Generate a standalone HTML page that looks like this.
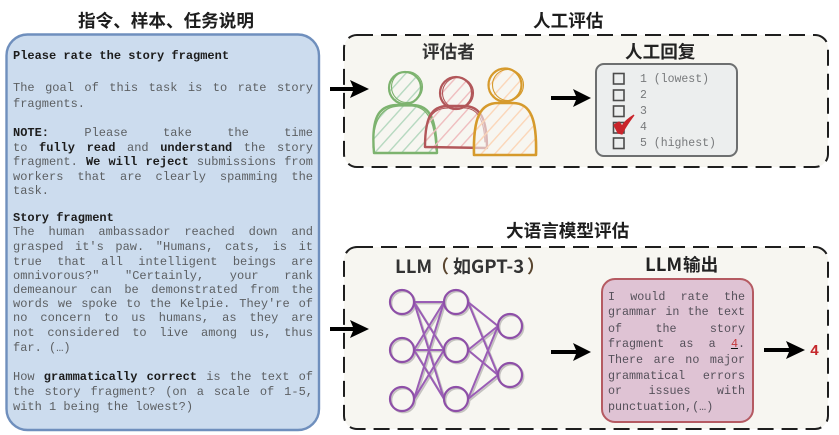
<!DOCTYPE html>
<html>
<head>
<meta charset="utf-8">
<style>
html,body{margin:0;padding:0;background:#fff;width:839px;height:435px;overflow:hidden}
#w{position:relative;width:839px;height:435px;filter:blur(.3px)}
svg{position:absolute;left:0;top:0}
.l{position:absolute;margin-top:1px;left:13px;width:300px;height:14px;line-height:14px;font:12px/14px "Liberation Mono",monospace;color:#5c5f62;white-space:nowrap}
.j{white-space:normal;text-align:justify;text-align-last:justify}
.l b{color:#1c1c1c}
.o{left:608px;width:137px;color:#55505a;font-size:11.7px}
.c{left:640px;width:90px;color:#77797b;font-size:11.5px;white-space:pre}
</style>
</head>
<body>
<div id="w">
<svg width="839" height="435" viewBox="0 0 839 435" xmlns="http://www.w3.org/2000/svg">
<defs>
<pattern id="hg" width="10" height="10" patternUnits="userSpaceOnUse" patternTransform="rotate(42)"><line x1="0" y1="0" x2="0" y2="10" stroke="#b5d8bf" stroke-width="2.8"/></pattern>
<pattern id="hr" width="10" height="10" patternUnits="userSpaceOnUse" patternTransform="rotate(42)"><line x1="0" y1="0" x2="0" y2="10" stroke="#efbcbe" stroke-width="2.8"/></pattern>
<pattern id="ho" width="10" height="10" patternUnits="userSpaceOnUse" patternTransform="rotate(42)"><line x1="0" y1="0" x2="0" y2="10" stroke="#fbd6b8" stroke-width="2.8"/></pattern>
</defs>

<rect x="6.5" y="34.5" width="312.5" height="395.5" rx="21" fill="#ccdcee" stroke="#6f8fbd" stroke-width="2.4"/>

<rect x="344" y="35" width="484" height="132" rx="13" fill="#f7f6f1" stroke="#1e1e1e" stroke-width="2" stroke-dasharray="16 8"/>
<rect x="344" y="247" width="484" height="182" rx="13" fill="#f7f6f1" stroke="#1e1e1e" stroke-width="2" stroke-dasharray="16 8"/>

<g font-family="'Noto Sans CJK SC','Liberation Sans',sans-serif" font-weight="700" font-size="17.6" fill="#1d1d1d">
<text x="78" y="27">指令、样本、任务说明</text>
<text x="533" y="27">人工评估</text>
<text x="422" y="58" fill="#333">评估者</text>
<text x="625" y="58" fill="#222">人工回复</text>
<text x="506" y="237">大语言模型评估</text>
<text x="395" y="273" fill="#333" font-size="18.500">LLM</text>
<text x="431" y="273" fill="#5a4630" font-size="18">（</text>
<text x="453" y="273" fill="#333" font-size="18">如</text>
<text x="471" y="273" fill="#333" font-size="18.500">GPT-3</text>
<text x="527" y="273" fill="#5a4630" font-size="18">）</text>
<text x="645" y="271" fill="#222" font-size="18.500">LLM</text>
<text x="683" y="271" fill="#222">输出</text>
</g>

<!-- people -->
<g fill="none" stroke-linecap="round" stroke-linejoin="round">
<path d="M373 152 C371 118 378 105 398 105 H412 C432 105 437 122 437 153 Z" fill="url(#hg)"/>
<circle cx="405" cy="88" r="16" fill="url(#hg)"/>
<path d="M374 153 C371 118 378 105 398 105 H412 C432 105 436 122 437 153 Z" stroke="#7db36f" stroke-width="2.400"/>
<path d="M373 148 C373 120 381 107 399 106 H412 C428 107 435 122 436 150" stroke="#7db36f" stroke-width="1.200"/>
<circle cx="405" cy="88" r="16" stroke="#7db36f" stroke-width="2.200"/>
<circle cx="407" cy="87" r="15.500" stroke="#7db36f" stroke-width="1.100"/>

<path d="M425 146 C425 118 431 106 448 106 H464 C481 106 487 120 487 148 Z" fill="url(#hr)"/>
<circle cx="456" cy="93" r="16" fill="url(#hr)"/>
<path d="M425 147 C425 118 431 106 448 106 H464 C481 106 487 120 487 148 Z" stroke="#b2575a" stroke-width="2.400"/>
<path d="M427 126 C430 112 438 108 449 108 H464 C478 108 484 120 485 142" stroke="#b2575a" stroke-width="1.100"/>
<circle cx="456" cy="93" r="16" stroke="#b2575a" stroke-width="2.200"/>
<circle cx="458" cy="93" r="15.500" stroke="#b2575a" stroke-width="1.100"/>

<path d="M474 155 C473 118 480 103 498 103 H513 C531 103 537 120 536 155 Z" fill="#f7f6f1" fill-opacity=".6"/>
<path d="M474 155 C473 118 480 103 498 103 H513 C531 103 537 120 536 155 Z" fill="url(#ho)"/>
<circle cx="505" cy="85" r="16.500" fill="url(#ho)"/>
<path d="M474 155 C473 118 480 103 498 103 H513 C531 103 537 120 536 155 Z" stroke="#d69a2c" stroke-width="2.600"/>
<circle cx="505" cy="85" r="16.500" stroke="#d69a2c" stroke-width="2.200"/>
<circle cx="508" cy="85" r="15.500" stroke="#d69a2c" stroke-width="1.100"/>
</g>

<!-- arrows -->
<g fill="#000" stroke="none">
<path d="M330 87H353L350 80L369 89L350 98L353 91H330Z"/>
<path d="M551 96H576L573 89L591 98L573 107L576 100H551Z"/>
<path d="M330 327H353L350 320L369 329L350 338L353 331H330Z"/>
<path d="M551 350H576L573 343L591 352L573 361L576 354H551Z"/>
<path d="M764 348H789L786 341L805 350L786 359L789 352H764Z"/>
</g>
<text x="810" y="355" font-family="'Liberation Mono',monospace" font-weight="700" font-size="15" fill="#c5282c">4</text>

<!-- checklist -->
<rect x="596" y="64" width="141" height="92" rx="8" fill="#eceeee" stroke="#6d6f70" stroke-width="2"/>
<g fill="none" stroke="#4b4b4b" stroke-width="1.600">
<rect x="613.500" y="73.500" width="10.500" height="10.500"/>
<rect x="613.500" y="90" width="10.500" height="10.500"/>
<rect x="613.500" y="106" width="10.500" height="10.500"/>
<rect x="613.500" y="122.500" width="10.500" height="10.500"/>
<rect x="613.500" y="138" width="10.500" height="10.500"/>
</g>
<path d="M614 125L619 122L622 126C625 121 629 118 634 115C629 122 625 127 622 134L618 133Z" fill="#c9242b" stroke="#c9242b" stroke-width="1.200"/>

<!-- LLM output box -->
<rect x="602" y="279" width="151" height="143" rx="13" fill="#dfc3d4" stroke="#b55a62" stroke-width="2"/>

<!-- network -->
<g stroke="#c4c2bf" stroke-width="1.800" fill="none" transform="translate(1.500 1.500)">
<path d="M414 302H444M414 302L444 350M414 302L444 399"/>
<path d="M414 350L444 302M414 350H444M414 350L444 399"/>
<path d="M414 399L444 302M414 399L444 350"/>
<path d="M468 302L498 326M468 302L498 375"/>
<path d="M468 350L498 326M468 350L498 375"/>
<path d="M468 399L498 326M468 399L498 375"/>
<circle cx="402" cy="302" r="12"/><circle cx="402" cy="350" r="12"/><circle cx="402" cy="399" r="12"/>
<circle cx="456" cy="302" r="12"/><circle cx="456" cy="350" r="12"/><circle cx="456" cy="399" r="12"/>
<circle cx="510" cy="326" r="12"/><circle cx="510" cy="375" r="12"/>
</g>
<g stroke="#9a5db5" stroke-width="2" fill="none">
<path d="M414 302H444M414 302L444 350M414 302L444 399"/>
<path d="M414 350L444 302M414 350H444M414 350L444 399"/>
<path d="M414 399L444 302M414 399L444 350"/>
<path d="M468 302L498 326M468 302L498 375"/>
<path d="M468 350L498 326M468 350L498 375"/>
<path d="M468 399L498 326M468 399L498 375"/>
</g>
<g stroke="#8e4fa8" stroke-width="2.200" fill="none">
<circle cx="402" cy="302" r="12"/><circle cx="402" cy="350" r="12"/><circle cx="402" cy="399" r="12"/>
<circle cx="456" cy="302" r="12"/><circle cx="456" cy="350" r="12"/><circle cx="456" cy="399" r="12"/>
<circle cx="510" cy="326" r="12"/><circle cx="510" cy="375" r="12"/>
</g>
</svg>

<div class="l" style="top:48px"><b>Please rate the story fragment</b></div>
<div class="l j" style="top:80px">The goal of this task is to rate story</div>
<div class="l" style="top:96px">fragments.</div>
<div class="l j" style="top:125px"><b>NOTE:</b> Please take the time</div>
<div class="l j" style="top:140px">to <b>fully read</b> and <b>understand</b> the story</div>
<div class="l j" style="top:154px">fragment. <b>We will reject</b> submissions from</div>
<div class="l j" style="top:169px">workers that are clearly spamming the</div>
<div class="l" style="top:183px">task.</div>
<div class="l" style="top:210px"><b>Story fragment</b></div>
<div class="l j" style="top:224px">The human ambassador reached down and</div>
<div class="l j" style="top:239px">grasped it's paw. "Humans, cats, is it</div>
<div class="l j" style="top:254px">true that all intelligent beings are</div>
<div class="l j" style="top:268px">omnivorous?" "Certainly, your rank</div>
<div class="l j" style="top:282px">demeanour can be demonstrated from the</div>
<div class="l j" style="top:296px">words we spoke to the Kelpie. They're of</div>
<div class="l j" style="top:310px">no concern to us humans, as they are</div>
<div class="l j" style="top:325px">not considered to live among us, thus</div>
<div class="l" style="top:340px">far. (…)</div>
<div class="l j" style="top:369px">How <b>grammatically correct</b> is the text of</div>
<div class="l j" style="top:384px">the story fragment? (on a scale of 1-5,</div>
<div class="l" style="top:399px">with 1 being the lowest?)</div>

<div class="l c" style="top:72px">1 (lowest)</div>
<div class="l c" style="top:88px">2</div>
<div class="l c" style="top:104px">3</div>
<div class="l c" style="top:120px">4</div>
<div class="l c" style="top:136px">5 (highest)</div>

<div class="l o j" style="top:289px">I would rate the</div>
<div class="l o j" style="top:304px">grammar in the text</div>
<div class="l o j" style="top:321px">of the story</div>
<div class="l o j" style="top:336px">fragment as a <span><span style="color:#c5383c;text-decoration:underline;text-decoration-color:#111">4</span>.</span></div>
<div class="l o j" style="top:352px">There are no major</div>
<div class="l o j" style="top:368px">grammatical errors</div>
<div class="l o j" style="top:383px">or issues with</div>
<div class="l o" style="top:399px">punctuation,(…)</div>
</div>
</body>
</html>
